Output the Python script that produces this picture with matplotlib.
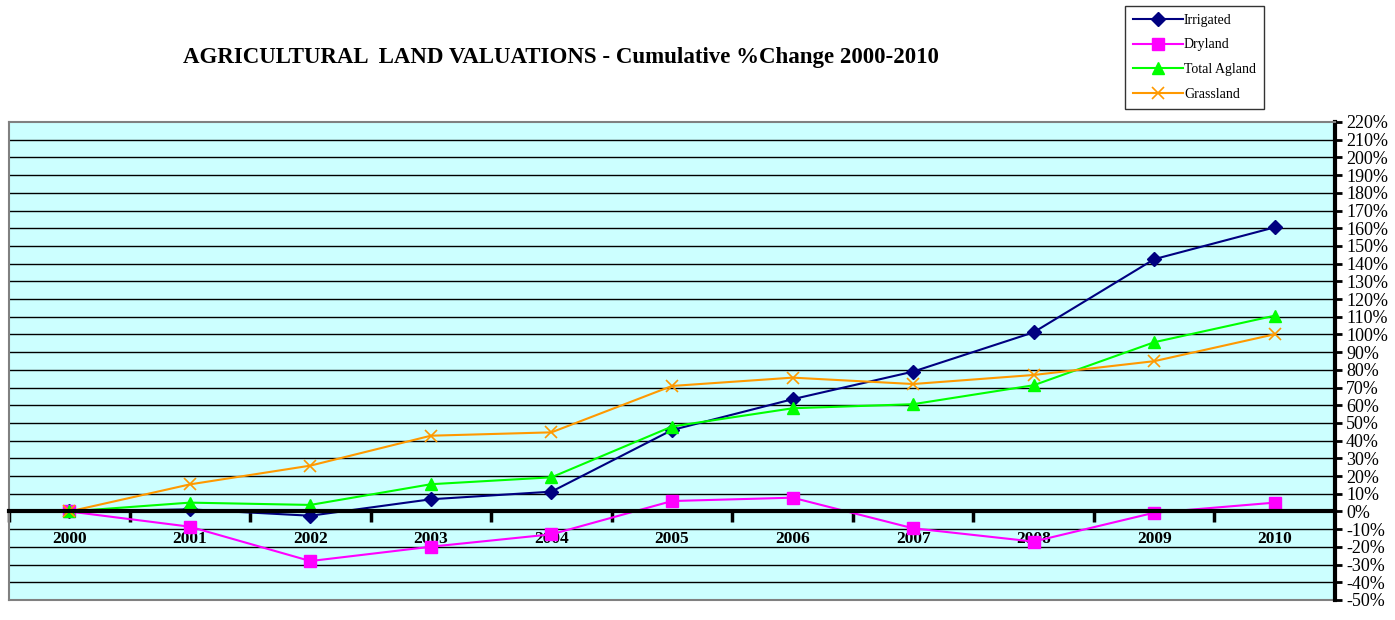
import matplotlib
matplotlib.use('Agg')
import matplotlib.pyplot as plt
import numpy as np

# data (cumulative % change since 2000)
years = ['2000', '2001', '2002', '2003', '2004', '2005',
         '2006', '2007', '2008', '2009', '2010']
irrigated = [0, 1.2, -2.4, 6.9, 11.2, 46, 63.4, 79, 101.2, 142.5, 160.5]
dryland = [0, -8.6, -28, -19.9, -12.9, 5.9, 7.8, -9.5, -17, -0.7, 5]
total_agland = [0, 5, 3.7, 15.4, 19.3, 48, 58.3, 60.6, 71.3, 95.6, 110.6]
grassland = [0, 15.3, 25.9, 42.8, 44.7, 70.9, 75.6, 72, 77.1, 84.9, 100.1]

serif = ['Liberation Serif', 'DejaVu Serif']

fig = plt.figure(figsize=(13.95, 6.2), dpi=100)
ax = fig.add_axes([9/1395, 20/620, (1335-9)/1395, (600-122)/620])
ax.set_facecolor('#CCFFFF')

x = np.arange(len(years))
ax.set_xlim(-0.5, len(years) - 0.5)
ax.set_ylim(-50, 220)

# horizontal gridlines
for yv in range(-40, 220, 10):
    ax.axhline(yv, color='black', lw=1.0, zorder=1)

series = [
    ('Irrigated', irrigated, '#000080', 'D', 7, 1),
    ('Dryland', dryland, '#FF00FF', 's', 8, 1),
    ('Total Agland', total_agland, '#00FF00', '^', 8, 1),
    ('Grassland', grassland, '#FF9900', 'x', 9, 1.2),
]
for name, vals, col, mk, ms, mew in series:
    ax.plot(x, vals, color=col, lw=1.5, marker=mk, markersize=ms,
            markeredgewidth=mew, label=name, zorder=3)

# spines
for s in ['left', 'top']:
    ax.spines[s].set_color('#808080')
    ax.spines[s].set_linewidth(1.5)
ax.spines['right'].set_color('black')
ax.spines['right'].set_linewidth(3)
ax.spines['bottom'].set_position(('data', 0))
ax.spines['bottom'].set_linewidth(3)
ax.spines['bottom'].set_zorder(4)
ax.plot([0, 1], [0, 0], transform=ax.transAxes, color='#808080', lw=1.5,
        clip_on=False)

# x axis: tick marks between categories, labels at centres
ax.set_xticks(np.arange(-0.5, len(years) - 0.5, 1.0))
ax.set_xticklabels([])
ax.tick_params(axis='x', which='major', direction='out', length=8, width=2.5)
ax.set_xticks(x, minor=True)
ax.set_xticklabels(years, minor=True, fontfamily=serif, fontweight='bold',
                   fontsize=12.5)
ax.tick_params(axis='x', which='minor', length=0, pad=14)

# y axis on the right
ax.yaxis.tick_right()
yt = np.arange(-50, 221, 10)
ax.set_yticks(yt)
ax.set_yticklabels([f'{v}%' for v in yt], fontfamily=serif, fontsize=13)
ax.tick_params(axis='y', direction='out', length=5, width=2, pad=3)

fig.text(0.402, 0.908, 'AGRICULTURAL  LAND VALUATIONS - Cumulative %Change 2000-2010',
         ha='center', va='center', fontfamily=serif, fontweight='bold',
         fontsize=16.5)

leg = fig.legend(loc='upper left', bbox_to_anchor=(1125/1395, 1 - 6/620),
                 prop={'family': serif, 'size': 10}, frameon=True,
                 fancybox=False, edgecolor='black', handlelength=3.6,
                 handletextpad=0.1, labelspacing=0.85, borderpad=0.55,
                 borderaxespad=0)
leg.get_frame().set_linewidth(1)

fig.savefig('out.png', dpi=100)
